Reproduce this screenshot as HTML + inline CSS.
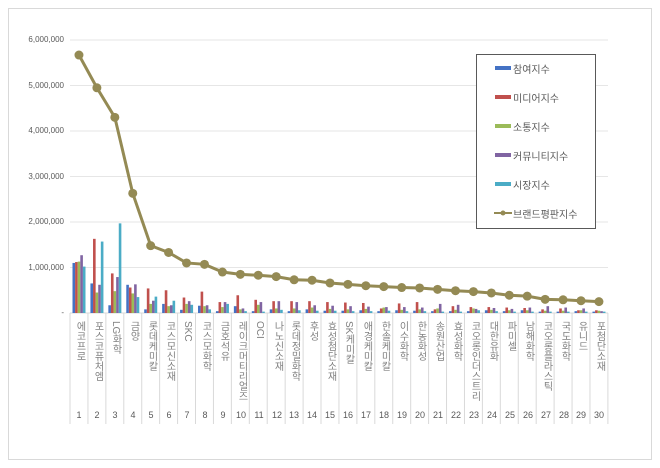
<!DOCTYPE html>
<html><head><meta charset="utf-8"><style>
body{margin:0;background:#fff;}
#w{position:relative;width:660px;height:468px;overflow:hidden;font-family:"Liberation Sans","Noto Sans CJK KR",sans-serif;}
.lab{position:absolute;top:321px;width:18px;writing-mode:vertical-rl;font-size:10px;color:#808080;line-height:18px;text-align:left;}
.num{position:absolute;top:410px;width:18px;text-align:center;font-size:9px;color:#595959;}
.yl{position:absolute;left:20px;width:44px;text-align:right;font-size:8px;color:#595959;}
.lg{position:absolute;left:513px;font-size:10px;color:#595959;}
</style></head><body><div id="w">
<svg id="s" width="660" height="468" style="position:absolute;left:0;top:0">
<rect x="8.5" y="8.5" width="643" height="451" fill="none" stroke="#d9d9d9"/>
<g id="g"></g>
<rect x="476.5" y="54.5" width="119" height="174" fill="#fff" stroke="#595959"/>
<rect x="495" y="66" width="16" height="4" fill="#4472c4"/>
<rect x="495" y="95" width="16" height="4" fill="#c0504d"/>
<rect x="495" y="124" width="16" height="4" fill="#9bbb59"/>
<rect x="495" y="153" width="16" height="4" fill="#8064a2"/>
<rect x="495" y="182" width="16" height="4" fill="#4bacc6"/>
<line x1="494" y1="213" x2="512" y2="213" stroke="#948a54" stroke-width="2"/><circle cx="503" cy="213" r="2.5" fill="#948a54"/>
</svg>
<div class="yl" style="top:35px">6,000,000</div>
<div class="yl" style="top:81px">5,000,000</div>
<div class="yl" style="top:126px">4,000,000</div>
<div class="yl" style="top:172px">3,000,000</div>
<div class="yl" style="top:217px">2,000,000</div>
<div class="yl" style="top:263px">1,000,000</div>
<div class="yl" style="top:308px">-</div>
<div class="lg" style="top:61px">참여지수</div>
<div class="lg" style="top:90px">미디어지수</div>
<div class="lg" style="top:119px">소통지수</div>
<div class="lg" style="top:148px">커뮤니티지수</div>
<div class="lg" style="top:177px">시장지수</div>
<div class="lg" style="top:206px">브랜드평판지수</div>
<div class="lab" style="left:70px">에코프로</div>
<div class="lab" style="left:88px">포스코퓨처엠</div>
<div class="lab" style="left:106px">LG화학</div>
<div class="lab" style="left:124px">금양</div>
<div class="lab" style="left:142px">롯데케미칼</div>
<div class="lab" style="left:160px">코스모신소재</div>
<div class="lab" style="left:178px">SKC</div>
<div class="lab" style="left:196px">코스모화학</div>
<div class="lab" style="left:214px">금호석유</div>
<div class="lab" style="left:232px">레이크머티리얼즈</div>
<div class="lab" style="left:250px">OCI</div>
<div class="lab" style="left:268px">나노신소재</div>
<div class="lab" style="left:285px">롯데정밀화학</div>
<div class="lab" style="left:303px">후성</div>
<div class="lab" style="left:321px">효성첨단소재</div>
<div class="lab" style="left:339px">SK케미칼</div>
<div class="lab" style="left:357px">애경케미칼</div>
<div class="lab" style="left:375px">한솔케미칼</div>
<div class="lab" style="left:393px">이수화학</div>
<div class="lab" style="left:411px">한농화성</div>
<div class="lab" style="left:429px">송원산업</div>
<div class="lab" style="left:447px">효성화학</div>
<div class="lab" style="left:465px">코오롱인더스트리</div>
<div class="lab" style="left:483px">대한유화</div>
<div class="lab" style="left:501px">파미셀</div>
<div class="lab" style="left:519px">남해화학</div>
<div class="lab" style="left:537px">코오롱플라스틱</div>
<div class="lab" style="left:555px">국도화학</div>
<div class="lab" style="left:572px">유니드</div>
<div class="lab" style="left:590px">포첨단소재</div>
<div class="num" style="left:70px">1</div><div class="num" style="left:88px">2</div><div class="num" style="left:106px">3</div><div class="num" style="left:124px">4</div><div class="num" style="left:142px">5</div><div class="num" style="left:160px">6</div><div class="num" style="left:178px">7</div><div class="num" style="left:196px">8</div><div class="num" style="left:214px">9</div><div class="num" style="left:232px">10</div><div class="num" style="left:250px">11</div><div class="num" style="left:268px">12</div><div class="num" style="left:285px">13</div><div class="num" style="left:303px">14</div><div class="num" style="left:321px">15</div><div class="num" style="left:339px">16</div><div class="num" style="left:357px">17</div><div class="num" style="left:375px">18</div><div class="num" style="left:393px">19</div><div class="num" style="left:411px">20</div><div class="num" style="left:429px">21</div><div class="num" style="left:447px">22</div><div class="num" style="left:465px">23</div><div class="num" style="left:483px">24</div><div class="num" style="left:501px">25</div><div class="num" style="left:519px">26</div><div class="num" style="left:537px">27</div><div class="num" style="left:555px">28</div><div class="num" style="left:572px">29</div><div class="num" style="left:590px">30</div>
</div>
<script>
var g=document.getElementById('g'),h='';
var X0=70,W=17.93,Y0=313,K=45.5;
for(var i=1;i<=6;i++){var y=Y0-i*K;h+='<line x1="70" y1="'+y+'" x2="608" y2="'+y+'" stroke="#e6e6e6"/>';}
for(var i=0;i<=30;i++){var x=X0+i*W;h+='<line x1="'+x+'" y1="313" x2="'+x+'" y2="424" stroke="#d9d9d9"/>';}
h+='<line x1="70" y1="313" x2="608" y2="313" stroke="#d9d9d9"/>';
var B=[[1.1,1.12,1.13,1.27,1.02],[.65,1.63,.45,.62,1.57],[.17,.87,.48,.79,1.97],[.62,.56,.43,.63,.35],[.08,.54,.2,.27,.36],[.2,.5,.15,.17,.27],[.07,.34,.2,.26,.18],[.16,.47,.15,.17,.08],[.04,.24,.13,.24,.2],[.15,.39,.08,.1,.04],[.04,.29,.18,.24,.03],[.08,.26,.1,.26,.07],[.04,.26,.1,.24,.06],[.08,.26,.12,.17,.05],[.05,.24,.09,.16,.05],[.05,.23,.08,.15,.04],[.06,.22,.09,.14,.04],[.04,.1,.12,.13,.05],[.06,.21,.07,.13,.04],[.05,.24,.08,.12,.04],[.04,.08,.1,.2,.03],[.04,.15,.07,.18,.03],[.04,.13,.1,.09,.06],[.06,.13,.07,.11,.04],[.04,.12,.06,.09,.03],[.06,.11,.06,.12,.03],[.03,.08,.05,.15,.03],[.03,.1,.05,.12,.03],[.04,.06,.06,.1,.03],[.03,.06,.05,.04,.03]];
var C=['#4472c4','#c0504d','#9bbb59','#8064a2','#4bacc6'];
var L=[5.67,4.95,4.3,2.63,1.48,1.33,1.1,1.07,.9,.85,.83,.8,.73,.72,.66,.63,.6,.58,.56,.55,.52,.49,.47,.44,.39,.37,.3,.29,.27,.25];
for(var i=0;i<30;i++){for(var j=0;j<5;j++){var v=B[i][j]*K;h+='<rect x="'+(X0+i*W+2.5+j*2.6)+'" y="'+(Y0-v)+'" width="2.6" height="'+v+'" fill="'+C[j]+'"/>';}}
var p='';for(var i=0;i<30;i++){p+=(X0+i*W+W/2)+','+(Y0-L[i]*K)+' ';}
h+='<polyline points="'+p+'" fill="none" stroke="#948a54" stroke-width="3"/>';
for(var i=0;i<30;i++){h+='<circle cx="'+(X0+i*W+W/2)+'" cy="'+(Y0-L[i]*K)+'" r="4.5" fill="#948a54"/>';}
g.innerHTML=h;
</script>
</body></html>
